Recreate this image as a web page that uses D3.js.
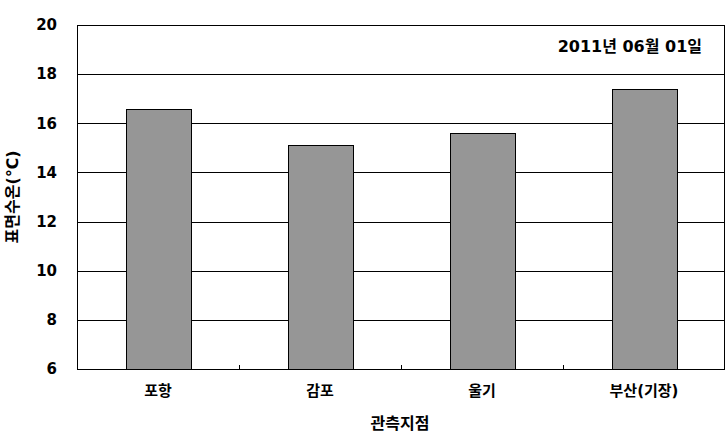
<!DOCTYPE html>
<html lang="ko">
<head>
    <meta charset="UTF-8">
    <script src="https://cdn.jsdelivr.net/npm/d3@7"></script>
    <style>
        body { margin: 0; background: white; }
        svg text {
            font-family: "DejaVu Sans", "Noto Sans CJK KR", sans-serif;
            font-weight: bold;
            fill: black;
        }
    </style>
</head>
<body>
    <div id="chart"></div>
    <script>
        // Data
        const stations = ["포항", "감포", "울기", "부산(기장)"];
        const temps = [16.6, 15.1, 15.6, 17.4];
        const yTicks = [6, 8, 10, 12, 14, 16, 18, 20];
        const dateLabel = "2011년 06월 01일";

        const width = 728, height = 433;
        const margin = { top: 25, right: 3, bottom: 64, left: 77 };
        const innerW = width - margin.left - margin.right;
        const innerH = height - margin.top - margin.bottom;

        const svg = d3.select("#chart").append("svg")
            .attr("width", width)
            .attr("height", height);

        const g = svg.append("g")
            .attr("transform", `translate(${margin.left},${margin.top})`);

        const x = d3.scaleBand()
            .domain(stations)
            .range([0, innerW])
            .paddingInner(0.6)
            .paddingOuter(0.3);

        // category slots, for the tick marks between groups
        const slot = d3.scaleBand().domain(stations).range([0, innerW]);

        const y = d3.scaleLinear().domain([6, 20]).range([innerH, 0]);

        // gridlines
        g.selectAll(".grid")
            .data(yTicks)
            .enter()
            .append("line")
            .attr("x1", 0)
            .attr("x2", innerW)
            .attr("y1", d => Math.round(y(d)) + 0.5)
            .attr("y2", d => Math.round(y(d)) + 0.5)
            .attr("stroke", "black")
            .attr("stroke-width", 1);

        // bars
        g.selectAll(".bar")
            .data(stations)
            .enter()
            .append("rect")
            .attr("x", d => Math.round(x(d)) + 0.5)
            .attr("y", (d, i) => Math.round(y(temps[i])) + 0.5)
            .attr("width", Math.round(x.bandwidth()))
            .attr("height", (d, i) => Math.round(innerH - y(temps[i])))
            .attr("fill", "#969696")
            .attr("stroke", "black")
            .attr("stroke-width", 1);

        // plot frame
        g.append("rect")
            .attr("x", 0.5)
            .attr("y", 0.5)
            .attr("width", innerW - 1)
            .attr("height", innerH)
            .attr("fill", "none")
            .attr("stroke", "black");

        // tick marks between categories
        g.selectAll(".xtick")
            .data(stations.slice(1))
            .enter()
            .append("line")
            .attr("x1", d => Math.round(slot(d)) + 0.5)
            .attr("x2", d => Math.round(slot(d)) + 0.5)
            .attr("y1", innerH)
            .attr("y2", innerH - 4)
            .attr("stroke", "black");

        // y tick labels
        g.selectAll(".ylab")
            .data(yTicks)
            .enter()
            .append("text")
            .attr("x", -20)
            .attr("y", d => y(d))
            .attr("dy", "0.35em")
            .attr("text-anchor", "end")
            .style("font-size", "15px")
            .text(d => d);

        // x category labels
        g.selectAll(".xlab")
            .data(stations)
            .enter()
            .append("text")
            .attr("x", d => x(d) + x.bandwidth() / 2)
            .attr("y", innerH + 22)
            .attr("dy", "0.35em")
            .attr("text-anchor", "middle")
            .style("font-size", "15px")
            .text(d => d);

        // axis titles
        svg.append("text")
            .attr("x", margin.left + innerW / 2 - 1)
            .attr("y", 423)
            .attr("dy", "0.35em")
            .attr("text-anchor", "middle")
            .style("font-size", "16px")
            .text("관측지점");

        svg.append("text")
            .attr("transform", `translate(12,197) rotate(-90)`)
            .attr("dy", "0.35em")
            .attr("text-anchor", "middle")
            .style("font-size", "16px")
            .text("표면수온(℃)");

        // date annotation
        g.append("text")
            .attr("x", innerW - 23)
            .attr("y", 21)
            .attr("dy", "0.35em")
            .attr("text-anchor", "end")
            .style("font-size", "16px")
            .text(dateLabel);
    </script>
</body>
</html>
